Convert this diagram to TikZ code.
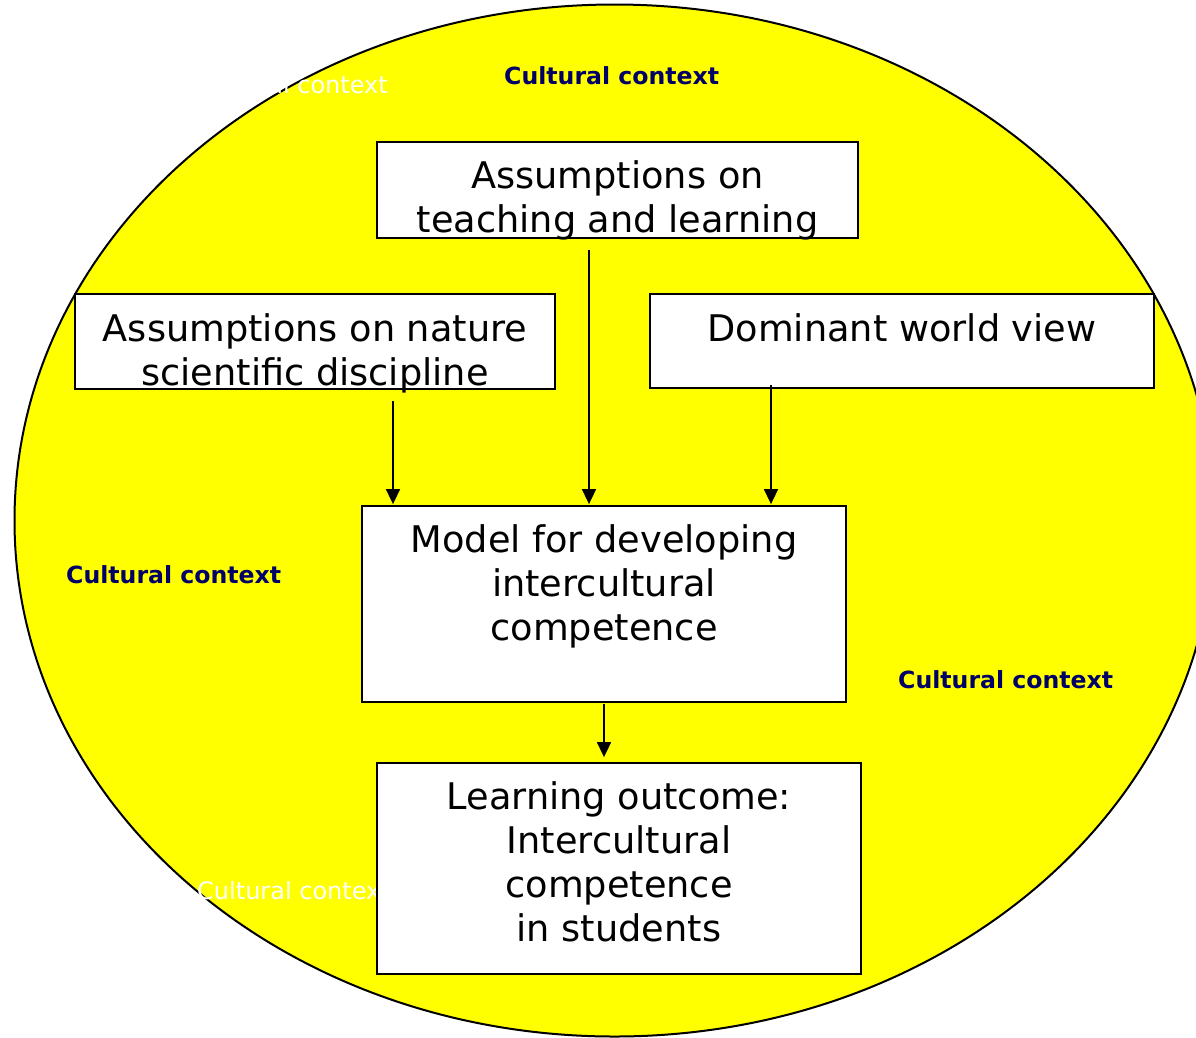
\documentclass[tikz,border=0pt]{standalone}
\usepackage{fontspec}
\setmainfont{DejaVu Sans}
\usepackage{tikz}
\usetikzlibrary{arrows.meta}
\usetikzlibrary{positioning}
\usetikzlibrary{calc}
\definecolor{ctxblue}{RGB}{0,0,102}
\definecolor{ctxyellow}{RGB}{255,255,0}
\tikzset{>={Triangle[length=15pt,width=14pt]}}
\tikzset{
    box/.style={draw=black, fill=white, line width=1.8pt, inner sep=0pt},
    boxtext/.style={font=\fontsize{36.7}{44}\selectfont, align=center, inner sep=0pt, anchor=north},
    ctxlabel/.style={font=\fontsize{23.6}{28}\selectfont\bfseries, text=ctxblue, inner sep=0pt, anchor=base west},
    ghostlabel/.style={font=\fontsize{24}{28}\selectfont, text=white, inner sep=0pt, anchor=base west},
    arr/.style={->, line width=1.6pt},
}

\begin{document}
\begin{tikzpicture}[x=1pt, y=-1pt] % cultural context model
	\clip (0,0) rectangle (1196,1037);
	\fill[white] (0,0) rectangle (1196,1037);
	\draw[fill=ctxyellow, line width=2pt] (614.5,520.5) ellipse [x radius=600pt, y radius=516pt];
	\node[ghostlabel] (ghostA) at (195,93) {Cultural context};
	\node[ghostlabel] (ghostB) at (197,899) {Cultural context};
	\node[ctxlabel] (ctxtop) at (504,84) {Cultural context};
	\node[ctxlabel] (ctxleft) at (66,583) {Cultural context};
	\node[ctxlabel] (ctxright) at (898,688) {Cultural context};
	% boxes
	\node[box, minimum width=481pt, minimum height=96pt] (teach) at (617.5,190) {};
	\node[box, minimum width=480pt, minimum height=95pt] (nature) at (315,341.5) {};
	\node[box, minimum width=504pt, minimum height=94pt] (world) at (902,341) {};
	\node[box, minimum width=484pt, minimum height=196pt] (model) at (604,604) {};
	\node[box, minimum width=484pt, minimum height=211pt] (outcome) at (619,868.5) {};
	\node[boxtext] (teach-t) at ([yshift=-19pt]teach.north) {Assumptions on\\teaching and learning};
	\node[boxtext] (nature-t) at ([yshift=-20pt]nature.north) {Assumptions on nature\\scientific discipline};
	\node[boxtext] (world-t) at ([yshift=-20pt]world.north) {Dominant world view};
	\node[boxtext] (model-t) at ([yshift=-19pt]model.north) {Model for developing\\intercultural\\competence};
	\node[boxtext] (outcome-t) at ([yshift=-19pt]outcome.north) {Learning outcome:\\Intercultural\\competence\\in students};
	% arrows
	\draw[arr, shorten <=11pt, shorten >=1pt] ([xshift=-28.5pt]teach.south) -- ([xshift=-28.5pt]teach.south |- model.north);
	\draw[arr, shorten <=11pt, shorten >=1pt] ([xshift=78pt]nature.south) -- ([xshift=78pt]nature.south |- model.north);
	\draw[arr, shorten <=-4pt, shorten >=1pt] ([xshift=-131pt]world.south) -- ([xshift=-131pt]world.south |- model.north);
	\draw[arr, shorten <=1pt, shorten >=5pt] (model.south) -- (model.south |- outcome.north);
\end{tikzpicture}
\end{document}
